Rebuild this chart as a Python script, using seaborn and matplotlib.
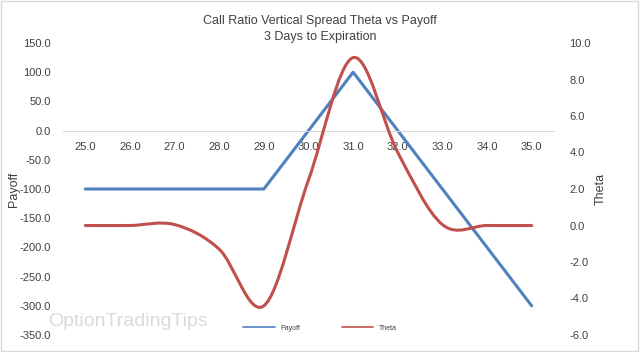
import numpy as np
import seaborn as sns
import matplotlib.pyplot as plt
from matplotlib.path import Path
from matplotlib.patches import PathPatch, Rectangle
from matplotlib.lines import Line2D

strikes = [25.0, 26.0, 27.0, 28.0, 29.0, 30.0, 31.0, 32.0, 33.0, 34.0, 35.0]
payoff = [-100, -100, -100, -100, -100, 0, 100, 0, -100, -200, -300]
theta = [0.0, 0.0, 0.05, -1.3, -4.4, 2.5, 9.2, 4.0, 0.05, 0.0, 0.0]
tick_labels = [f"{s:.1f}" for s in strikes]

blue = "#4F81BD"
red = "#C0504D"
txt = "#404040"

sns.set_theme(style="white")
plt.rcParams["font.family"] = ["Liberation Sans", "DejaVu Sans"]

fig = plt.figure(figsize=(6.4, 3.52), dpi=100)
ax = fig.add_axes([63 / 640, 1 - 335 / 352, (554 - 63) / 640, (335 - 43) / 352])
pos = np.arange(len(strikes))

sns.lineplot(x=pos, y=payoff, ax=ax, color=blue, linewidth=2.2, legend=False)
ax.set_xlim(-0.5, len(strikes) - 0.5)
ax.set_ylim(-350, 150)
ax.set_yticks(np.arange(-350, 151, 50))
ax.set_yticklabels([f"{v:.1f}" for v in np.arange(-350, 151, 50)])
ax.set_xticks(pos)
ax.set_xticklabels(tick_labels)
for s in ["top", "right", "left"]:
    ax.spines[s].set_visible(False)
ax.spines["bottom"].set_position(("data", 0))
ax.spines["bottom"].set_color("#D9D9D9")
ax.spines["bottom"].set_linewidth(0.8)
ax.tick_params(axis="x", length=0, pad=8, labelsize=8, labelcolor=txt)
ax.tick_params(axis="y", length=0, pad=9, labelsize=8, labelcolor=txt)
ax.set_ylabel("Payoff", fontsize=9, color=txt)
ax.yaxis.set_label_coords((20 - 63) / 491, 0.5)
ax.set_xlabel("")
ax.patch.set_alpha(0)

ax2 = ax.twinx()
ax2.set_ylim(-6, 10)
ax2.set_yticks(np.arange(-6, 11, 2))
ax2.set_yticklabels([f"{v:.1f}" for v in np.arange(-6, 11, 2)])
for s in ["top", "right", "left", "bottom"]:
    ax2.spines[s].set_visible(False)
ax2.tick_params(axis="y", length=0, pad=11, labelsize=8, labelcolor=txt)
ax2.set_ylabel("Theta", fontsize=9, color=txt)
ax2.yaxis.set_label_coords((595 - 63) / 491, 0.5)

# smoothed line through theta points (cubic bezier, like Excel smoothing)
p = np.column_stack([pos, theta]).astype(float)
verts = [tuple(p[0])]
codes = [Path.MOVETO]
n = len(p)
for i in range(n - 1):
    p0 = p[max(i - 1, 0)]
    p1 = p[i]
    p2 = p[i + 1]
    p3 = p[min(i + 2, n - 1)]
    c1 = p1 + (p2 - p0) / 6
    c2 = p2 - (p3 - p1) / 6
    verts += [tuple(c1), tuple(c2), tuple(p2)]
    codes += [Path.CURVE4] * 3
ax2.add_patch(PathPatch(Path(verts, codes), fill=False, edgecolor=red,
                        linewidth=2.2, capstyle="round"))

fig.text(0.5, 1 - 21 / 352, "Call Ratio Vertical Spread Theta vs Payoff",
         ha="center", va="center", fontsize=9, color=txt)
fig.text(0.5, 1 - 37 / 352, "3 Days to Expiration",
         ha="center", va="center", fontsize=9, color=txt)

fig.text(48 / 640, 1 - 321 / 352, "OptionTradingTips", ha="left", va="center",
         fontsize=14, color="#DADADA")

handles = [Line2D([], [], color=blue, lw=1.2), Line2D([], [], color=red, lw=1.2)]
fig.legend(handles, ["Payoff", "Theta"], loc="center", bbox_to_anchor=(0.5, 1 - 328 / 352),
           ncol=2, frameon=False, fontsize=5, handlelength=4.5, columnspacing=6,
           labelcolor=txt)

fig.patches.append(Rectangle((0.002, 0.003), 0.995, 0.993, transform=fig.transFigure,
                             fill=False, edgecolor="#D9D9D9", linewidth=1))

fig.savefig("out.png", dpi=100)
